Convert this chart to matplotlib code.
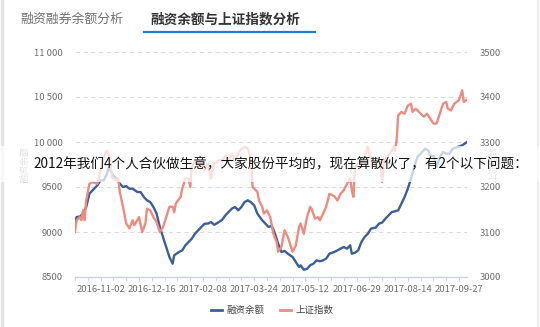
import matplotlib
matplotlib.use('Agg')
import matplotlib.pyplot as plt
from matplotlib.patches import Rectangle
from matplotlib.lines import Line2D

plt.rcParams['font.family'] = ['Noto Sans CJK SC', 'DejaVu Sans']

# Margin balance (left axis), sampled by trading-day index
MARGIN_DAYS = [0, 1, 3, 5, 7, 9, 11, 14, 16, 18, 20, 21, 24, 26, 28, 30, 32, 34, 36, 39,
               41, 43, 45, 47, 49, 51, 53, 55, 57, 59, 61, 62, 65, 67, 69, 71, 73, 75, 77, 79,
               81, 83, 85, 87, 90, 92, 94, 96, 98, 100, 102, 104, 106, 108, 110, 112, 114, 117, 119, 121,
               123, 125, 127, 129, 131, 133, 136, 138, 140, 141, 143, 145, 147, 149, 151, 153, 155, 157, 159, 162,
               164, 166, 168, 170, 172, 173, 175, 177, 179, 181, 183, 185, 188, 190, 192, 194, 196, 198, 200, 202,
               204, 206, 208, 210, 212, 214, 217, 219, 221, 222, 224, 226, 228, 230, 232, 234, 236, 239, 242, 245]
MARGIN_BAL = [9093, 9167, 9170, 9204, 9278, 9426, 9463, 9519, 9574, 9574, 9648, 9710, 9630, 9593, 9537, 9500, 9510, 9481, 9481, 9444,
              9444, 9389, 9352, 9333, 9278, 9204, 9056, 8944, 8833, 8722, 8648, 8741, 8778, 8796, 8852, 8889, 8926, 8981, 9019, 9056,
              9093, 9093, 9111, 9080, 9111, 9137, 9185, 9222, 9259, 9278, 9241, 9278, 9333, 9352, 9330, 9296, 9204, 9130, 9093, 9056,
              9070, 8981, 8870, 8778, 8790, 8759, 8722, 8667, 8611, 8630, 8581, 8590, 8630, 8648, 8685, 8675, 8685, 8704, 8759, 8778,
              8796, 8815, 8833, 8815, 8852, 8759, 8770, 8796, 8889, 8944, 8981, 9037, 9050, 9093, 9105, 9148, 9185, 9222, 9230, 9241,
              9315, 9389, 9481, 9593, 9722, 9833, 9889, 9926, 9900, 9852, 9845, 9722, 9833, 9889, 9870, 9870, 9926, 9944, 9963, 10000]

# Shanghai composite index (right axis)
INDEX_DAYS = [0, 1, 3, 4, 5, 6, 7, 9, 11, 14, 15, 16, 18, 20, 22, 23, 25, 27, 28, 30,
              32, 34, 36, 37, 40, 42, 44, 45, 47, 49, 51, 53, 55, 57, 59, 61, 62, 63, 66, 67,
              69, 71, 72, 73, 75, 77, 79, 81, 83, 85, 87, 90, 92, 94, 96, 98, 100, 102, 104, 106,
              108, 110, 111, 114, 115, 117, 118, 120, 122, 124, 126, 127, 129, 131, 133, 136, 138, 140, 141, 143,
              145, 147, 148, 150, 152, 153, 155, 157, 159, 162, 164, 166, 168, 170, 172, 173, 174, 175, 177, 179,
              181, 183, 184, 186, 189, 191, 192, 193, 195, 197, 199, 200, 201, 202, 204, 206, 208, 210, 211, 213,
              216, 218, 220, 222, 224, 226, 228, 230, 232, 233, 235, 237, 240, 242, 243, 245]
SH_INDEX = [3100, 3126, 3133, 3126, 3148, 3126, 3170, 3207, 3211, 3207, 3222, 3237, 3267, 3281, 3263, 3222, 3215, 3219, 3189, 3156,
            3119, 3108, 3126, 3115, 3133, 3100, 3119, 3152, 3148, 3133, 3122, 3100, 3111, 3133, 3156, 3156, 3144, 3163, 3178, 3196,
            3219, 3219, 3200, 3244, 3259, 3244, 3252, 3237, 3252, 3219, 3252, 3259, 3259, 3270, 3259, 3274, 3259, 3274, 3285, 3289,
            3285, 3259, 3200, 3189, 3170, 3156, 3141, 3148, 3133, 3096, 3078, 3056, 3067, 3104, 3089, 3056, 3070, 3111, 3119, 3096,
            3133, 3156, 3150, 3130, 3133, 3126, 3140, 3156, 3185, 3180, 3170, 3185, 3193, 3207, 3219, 3193, 3178, 3244, 3252, 3259,
            3267, 3289, 3274, 3252, 3259, 3255, 3211, 3259, 3267, 3274, 3289, 3280, 3304, 3359, 3367, 3363, 3381, 3385, 3367, 3374,
            3363, 3356, 3363, 3352, 3341, 3341, 3363, 3385, 3389, 3374, 3370, 3385, 3393, 3415, 3389, 3394]

TICK_DAYS = [16, 48, 80, 112, 144, 176, 208, 240]
TICK_LABELS = ['2016-11-02', '2016-12-16', '2017-02-08', '2017-03-24',
               '2017-05-12', '2017-06-29', '2017-08-14', '2017-09-27']
LEFT_TICKS = [8500, 9000, 9500, 10000, 10500, 11000]
LEFT_LABELS = ['8500', '9000', '9500', '10 000', '10 500', '11 000']
RIGHT_TICKS = [3000, 3100, 3200, 3300, 3400, 3500]

TABS = ['融资融券余额分析', '融资余额与上证指数分析']
SERIES_NAMES = ['融资余额', '上证指数']
OVERLAY = '2012年我们4个人合伙做生意，大家股份平均的，现在算散伙了，有2个以下问题：'

BLUE = '#3c5f95'
RED = '#ec8b82'
GRID = '#dcdcdc'
LABEL = '#6e6e6e'

W, H = 540, 327
fig = plt.figure(figsize=(W / 100, H / 100), dpi=100)
fig.patch.set_facecolor('white')


def fx(px):
    return px / W


def fy(py):
    return 1 - py / H


# tab header
fig.text(fx(20), fy(19), TABS[0], fontsize=9.3, color='#707070', va='center', ha='left')
fig.text(fx(150), fy(19), TABS[1], fontsize=9.8, color='#333333', va='center', ha='left',
         fontweight='bold')
fig.add_artist(Line2D([fx(144), fx(315)], [fy(32), fy(32)], color='#1f7ad0', lw=1.6))
fig.add_artist(Line2D([fx(2), fx(2)], [0, 1], color='#e4e4e4', lw=2.5))
fig.add_artist(Line2D([fx(538), fx(538)], [0, 1], color='#ececec', lw=1.5))

ax = fig.add_axes([fx(75), fy(277), fx(467) - fx(75), fy(52) - fy(277)])
ax2 = ax.twinx()

ax.plot(MARGIN_DAYS, MARGIN_BAL, color=BLUE, lw=1.7, solid_joinstyle='round', zorder=3)
ax2.plot(INDEX_DAYS, SH_INDEX, color=RED, lw=1.7, solid_joinstyle='round', zorder=3)

ax.set_xlim(0, 245)
ax.set_ylim(8500, 11000)
ax2.set_ylim(3000, 3500)

ax.set_yticks(LEFT_TICKS)
ax.set_yticklabels(LEFT_LABELS)
ax2.set_yticks(RIGHT_TICKS)
ax.set_xticks(TICK_DAYS)
ax.set_xticklabels(TICK_LABELS)
ax.set_xticks(range(0, 246, 8), minor=True)

for a in (ax, ax2):
    for s in a.spines.values():
        s.set_visible(False)
ax.spines['bottom'].set_visible(True)
ax.spines['bottom'].set_color('#c9d3e0')
ax.spines['bottom'].set_linewidth(1.0)

ax.tick_params(axis='y', length=0, pad=9, labelsize=6.8, labelcolor=LABEL)
ax2.tick_params(axis='y', length=0, pad=9, labelsize=6.8, labelcolor=LABEL)
ax.tick_params(axis='x', which='both', length=3, color='#c9d3e0', pad=2.5,
               labelsize=6.8, labelcolor=LABEL)

for v in LEFT_TICKS[1:]:
    ax.axhline(v, color=GRID, lw=0.8, ls=(0, (4, 3)), zorder=1)

# axis names (rotated)
fig.text(fx(25), fy(164), SERIES_NAMES[0], rotation=90, fontsize=6.5, color='#9a9a9a',
         ha='center', va='center')
fig.text(fx(494), fy(164), SERIES_NAMES[1], rotation=90, fontsize=6.5, color='#9a9a9a',
         ha='center', va='center')

# legend
handles = [Line2D([0], [0], color=BLUE, lw=2), Line2D([0], [0], color=RED, lw=2)]
fig.legend(handles, SERIES_NAMES, loc='center', bbox_to_anchor=(fx(272), fy(310)), ncol=2,
           frameon=False, fontsize=6.8, handlelength=1.2, handletextpad=0.45, columnspacing=1.6,
           labelcolor='#444444')

# translucent band with the overlay sentence
fig.add_artist(Rectangle((0, fy(182)), 1, fy(146) - fy(182), transform=fig.transFigure,
                         facecolor='white', alpha=0.72, edgecolor='none', zorder=5))
fig.text(fx(33), fy(164), OVERLAY, fontsize=9.8, color='#111111', ha='left', va='center',
         zorder=6)

fig.savefig('out.png', dpi=100, facecolor='white')
